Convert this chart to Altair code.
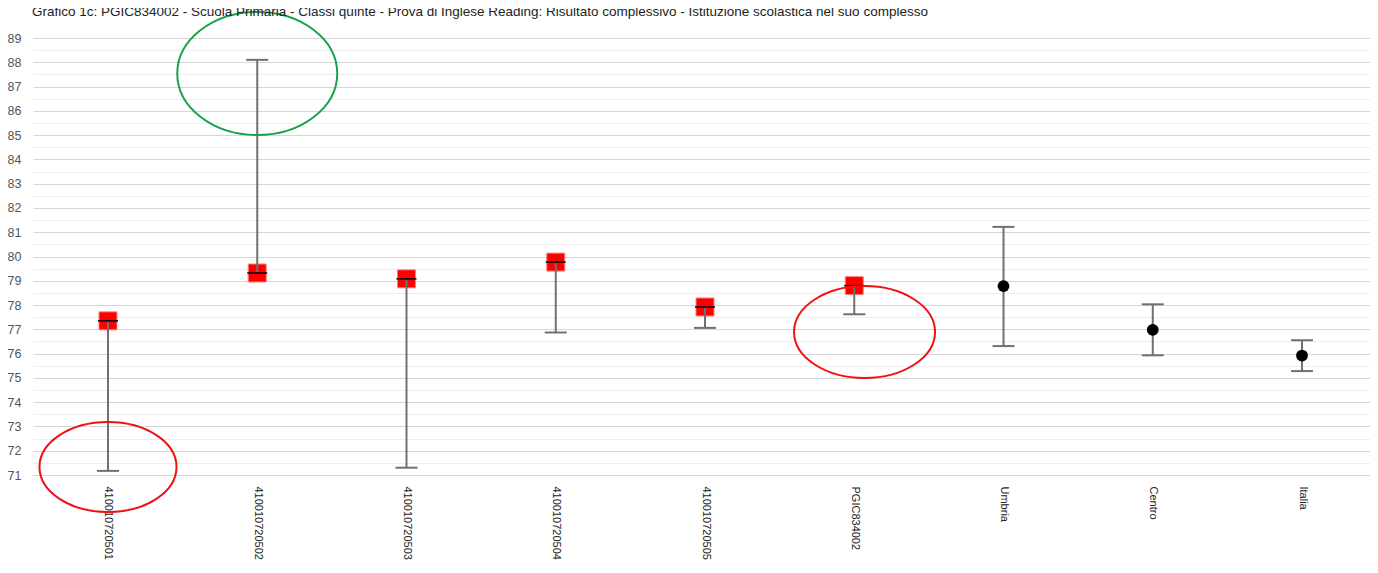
import altair as alt
import pandas as pd

categories = ["410010720501", "410010720502", "410010720503", "410010720504",
              "410010720505", "PGIC834002", "Umbria", "Centro", "Italia"]
values = [77.35, 79.32, 79.08, 79.77, 77.92, 78.80, 78.78, 76.98, 75.92]
low = [71.17, 79.32, 71.30, 76.87, 77.06, 77.62, 76.31, 75.93, 75.28]
high = [77.35, 88.10, 79.08, 79.77, 77.92, 78.80, 81.22, 78.03, 76.55]
kind = ["classe", "classe", "classe", "classe", "classe", "scuola",
        "riferimento", "riferimento", "riferimento"]

# hand-drawn highlight ellipses
ann_cat = ["410010720502", "410010720501", "PGIC834002"]
ann_y = [87.54, 71.33, 76.89]

y_ticks = [71 + 0.5 * i for i in range(37)]

df = pd.DataFrame({"cat": categories, "value": values, "low": low,
                   "high": high, "kind": kind})
df_ann = pd.DataFrame({"cat": ann_cat, "y": ann_y, "n": [0, 1, 2]})

x_enc = alt.X("cat:N", sort=categories,
              scale=alt.Scale(type="point", padding=0.479, align=0.5245),
              axis=alt.Axis(title=None, labelAngle=90, labelAlign="left",
                            labelBaseline="middle", labelPadding=11,
                            labelFont="Liberation Sans", labelFontSize=11,
                            labelColor="#222222", ticks=False, domain=False,
                            grid=False, labelOverlap=False))
y_scale = alt.Scale(domain=[71, 89], nice=False, zero=False)
y_axis = alt.Axis(title=None, values=y_ticks, tickCount=100,
                  labelOverlap=False,
                  labelExpr="datum.value % 1 === 0 ? format(datum.value, 'd') : ''",
                  labelFont="Liberation Sans", labelFontSize=12.5,
                  labelColor="#555555", labelPadding=12, ticks=False,
                  domain=False, grid=True,
                  gridColor=alt.condition("datum.value % 1 === 0",
                                          alt.value("#d6d6d6"),
                                          alt.value("#ededed")),
                  gridWidth=1.2)

base = alt.Chart(df)
xs = alt.X("cat:N", sort=categories)

squares = base.transform_filter("datum.kind != 'riferimento'").mark_point(
    shape="square", size=324, filled=True, color="#ff0000",
    stroke="#ff8080", strokeWidth=1, opacity=1
).encode(x=x_enc, y=alt.Y("value:Q", scale=y_scale, axis=y_axis))

rules = base.mark_rule(color="#707070", strokeWidth=2).encode(
    x=xs, y="low:Q", y2="high:Q")

cap_low = base.transform_filter("datum.low != datum.value").mark_tick(
    color="#707070", size=22, thickness=2, opacity=1
).encode(x=xs, y="low:Q")

cap_high = base.transform_filter("datum.high != datum.value").mark_tick(
    color="#707070", size=22, thickness=2, opacity=1
).encode(x=xs, y="high:Q")

val_tick = base.transform_filter("datum.kind != 'riferimento'").mark_tick(
    color="#000000", size=20, thickness=1.5, opacity=1
).encode(x=xs, y="value:Q")

dots = base.transform_filter("datum.kind == 'riferimento'").mark_point(
    shape="circle", size=140, filled=True, color="#000000", opacity=1
).encode(x=xs, y="value:Q")

ell_green = alt.Chart(df_ann).transform_filter("datum.n == 0").mark_point(
    shape="M-1,0A1,0.769 0 1,0 1,0A1,0.769 0 1,0 -1,0Z",
    size=25600, filled=False, color="#16a34a", strokeWidth=2, opacity=1
).encode(x=xs, y="y:Q")

ell_red1 = alt.Chart(df_ann).transform_filter("datum.n == 1").mark_point(
    shape="M-1,0A1,0.657 0 1,0 1,0A1,0.657 0 1,0 -1,0Z",
    size=18769, filled=False, color="#ee1111", strokeWidth=2, opacity=1
).encode(x=xs, y="y:Q")

ell_red2 = alt.Chart(df_ann).transform_filter("datum.n == 2").mark_point(
    shape="M-0.854,0A1,0.652 0 1,0 1.146,0A1,0.652 0 1,0 -0.854,0Z",
    size=19881, filled=False, color="#ee1111", strokeWidth=2, opacity=1
).encode(x=xs, y="y:Q")

chart = alt.layer(
    squares, rules, cap_low, cap_high, val_tick, dots,
    ell_green, ell_red1, ell_red2
).properties(
    width=1337, height=437,
    autosize=alt.AutoSizeParams(type="none"),
    padding={"left": 25, "top": 30, "right": 0, "bottom": 85},
    title=alt.TitleParams(
        "Grafico 1c: PGIC834002 - Scuola Primaria - Classi quinte - Prova di Inglese Reading: Risultato complessivo - Istituzione scolastica nel suo complesso",
        anchor="start", frame="group", dx=-1, offset=-11,
        font="Liberation Sans", fontSize=13.5, fontWeight="normal",
        color="#222222")
).configure_view(stroke=None)

chart.save("out.html", embed_options={"renderer": "svg", "actions": False})
